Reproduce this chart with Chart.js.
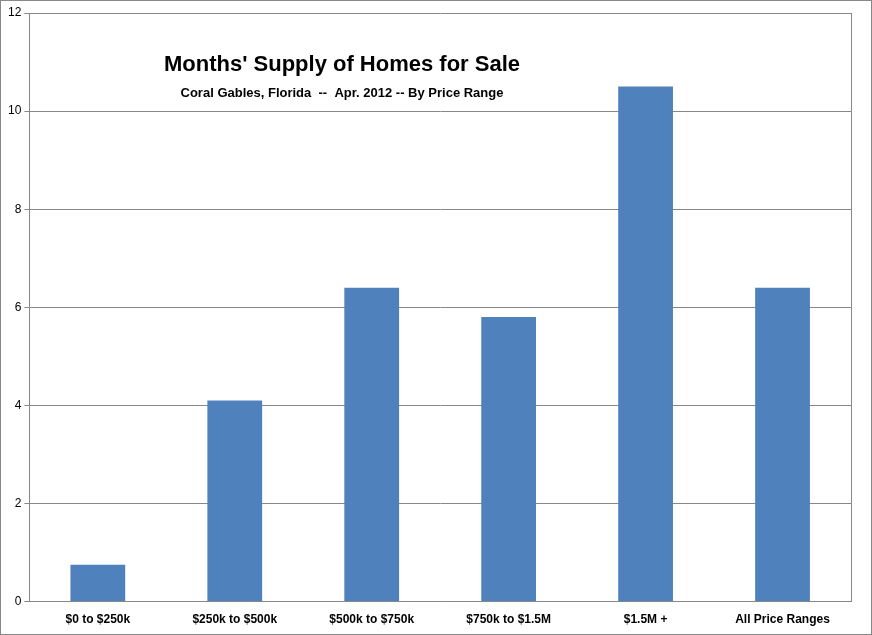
<!DOCTYPE html>
<html>
<head>
<style>
  html, body { margin: 0; padding: 0; background: #fff; }
  #wrap { width: 870px; height: 633px; border: 1px solid #888; }
</style>
<script src="https://cdn.jsdelivr.net/npm/chart.js@4"></script>
</head>
<body>
<div id="wrap"><canvas id="myChart" width="870" height="633"></canvas></div>
<script>
const categories = ['$0 to $250k', '$250k to $500k', '$500k to $750k', '$750k to $1.5M', '$1.5M +', 'All Price Ranges'];
const monthsSupply = [0.75, 4.1, 6.4, 5.8, 10.5, 6.4];
const chartTitle = "Months' Supply of Homes for Sale";
const chartSubtitle = 'Coral Gables, Florida  --  Apr. 2012 -- By Price Range';

// title sits inside the plot area, like the spreadsheet original
const innerTitle = {
    id: 'innerTitle',
    afterDraw(chart) {
        const ctx = chart.ctx;
        ctx.save();
        ctx.fillStyle = '#000';
        ctx.textAlign = 'center';
        ctx.font = 'bold 22px Arial, "Liberation Sans"';
        ctx.fillText(chartTitle, 341, 70);
        ctx.font = 'bold 13px Arial, "Liberation Sans"';
        ctx.fillText(chartSubtitle, 341, 96);
        ctx.restore();
    }
};

new Chart(document.getElementById('myChart').getContext('2d'), {
    type: 'bar',
    data: {
        labels: categories,
        datasets: [{
            data: monthsSupply,
            backgroundColor: '#4F81BD',
            barPercentage: 0.4,
            categoryPercentage: 1
        }]
    },
    options: {
        responsive: false,
        animation: false,
        layout: { padding: { top: 12, right: 20, bottom: 4, left: 4 } },
        plugins: { legend: { display: false }, tooltip: { enabled: false } },
        scales: {
            y: {
                min: 0, max: 12,
                ticks: { stepSize: 2, color: '#000', font: { family: 'Arial, "Liberation Sans"', size: 12 } },
                grid: { color: '#888', tickLength: 5 },
                border: { color: '#888' }
            },
            x: {
                ticks: { color: '#000', font: { family: 'Arial, "Liberation Sans"', size: 12, weight: 'bold' } },
                grid: { display: false },
                border: { color: '#888' }
            }
        }
    },
    plugins: [innerTitle, {
        id: 'rightEdge',
        afterDraw(chart) {
            const a = chart.chartArea, ctx = chart.ctx;
            ctx.save();
            ctx.strokeStyle = '#888';
            ctx.beginPath();
            ctx.moveTo(a.right + 0.5, a.top);
            ctx.lineTo(a.right + 0.5, a.bottom);
            ctx.stroke();
            ctx.restore();
        }
    }]
});
</script>
</body>
</html>
